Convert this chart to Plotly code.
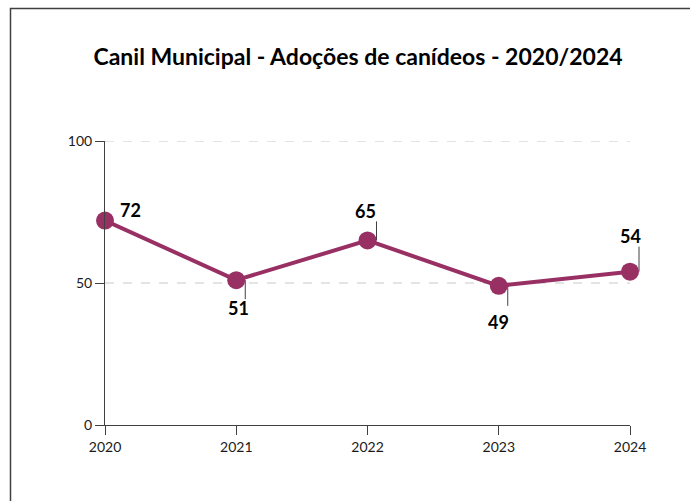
import plotly.graph_objects as go

# Adoptions per year
years = [2020, 2021, 2022, 2023, 2024]
adocoes = [72, 51, 65, 49, 54]
y_ticks = [0, 50, 100]

title_text = "Canil Municipal - Adoções de canídeos - 2020/2024"
line_color = "#983064"

W, H = 690, 501
L, R, T, B = 105, 60, 141, 76
plot_w = W - L - R
plot_h = H - T - B
x_range = [years[0], years[-1]]
y_range = [y_ticks[0], y_ticks[-1]]


def to_paper(val, rng):
    return (val - rng[0]) / (rng[1] - rng[0])


fig = go.Figure()
fig.add_trace(go.Scatter(
    x=years, y=adocoes, mode="lines+markers",
    line=dict(color=line_color, width=4),
    marker=dict(color=line_color, size=18),
    cliponaxis=False, hoverinfo="x+y", showlegend=False,
))

# label offsets (px) and leader lines
label_shift = [(25, 11), (2, -28), (-2, 29), (0, -36), (0, 36)]
leaders = [None, (0, -19), (0, 19), (0, -20), (0, 25)]

annotations = []
shapes = []
for yr, v, (dx, dy), ld in zip(years, adocoes, label_shift, leaders):
    annotations.append(dict(
        x=yr, y=v, xref="x", yref="y", text=f"<b>{v}</b>", showarrow=False,
        xshift=dx, yshift=dy,
        font=dict(family="Lato, 'Open Sans', sans-serif", size=18, color="#000000"),
    ))
    if ld:
        # paper-referenced so leaders at the plot edge are not clipped
        shapes.append(dict(
            type="line", xref="paper", yref="paper",
            xsizemode="pixel", xanchor=to_paper(yr, x_range), x0=9, x1=9,
            ysizemode="pixel", yanchor=to_paper(v, y_range), y0=ld[0], y1=ld[1],
            line=dict(color="#404040", width=1), layer="below",
        ))

# dashed gridlines for the non-zero ticks (top one sits on the plot edge)
for t in y_ticks[1:]:
    shapes.append(dict(
        type="line", xref="paper", yref="y", x0=0, x1=1, y0=t, y1=t,
        line=dict(color="#c8c8c8", width=1, dash="dash"), layer="below",
    ))

# outer frame (extends past right and bottom edges)
shapes.append(dict(
    type="rect", xref="paper", yref="paper",
    x0=(10.5 - L) / plot_w, x1=2.0,
    y0=-2.0, y1=(H - B - 8.5) / plot_h,
    line=dict(color="#404040", width=1.5), fillcolor="rgba(0,0,0,0)", layer="below",
))

tick_font = dict(family="Lato, 'Open Sans', sans-serif", size=14, color="#1a1a1a")

fig.update_layout(
    width=W, height=H,
    margin=dict(l=L, r=R, t=T, b=B, autoexpand=False),
    paper_bgcolor="white", plot_bgcolor="white",
    title=dict(
        text="<b>" + title_text + "</b>",
        x=358 / W, y=1 - 57 / H, xref="container", yref="container",
        xanchor="center", yanchor="middle",
        font=dict(family="Lato, 'Open Sans', sans-serif", size=23, color="#000000"),
    ),
    annotations=annotations, shapes=shapes,
    xaxis=dict(
        range=x_range, tickvals=years, ticktext=[str(y) for y in years],
        showgrid=False, zeroline=False, showline=True, linecolor="#404040", linewidth=1,
        ticks="outside", ticklen=9, tickcolor="#404040", tickfont=tick_font,
    ),
    yaxis=dict(
        range=y_range, tickvals=y_ticks,
        showgrid=False, zeroline=False, showline=True, linecolor="#404040", linewidth=1,
        ticks="outside", ticklen=9, tickcolor="#404040", tickfont=tick_font,
    ),
)

fig.write_html("out.html")
